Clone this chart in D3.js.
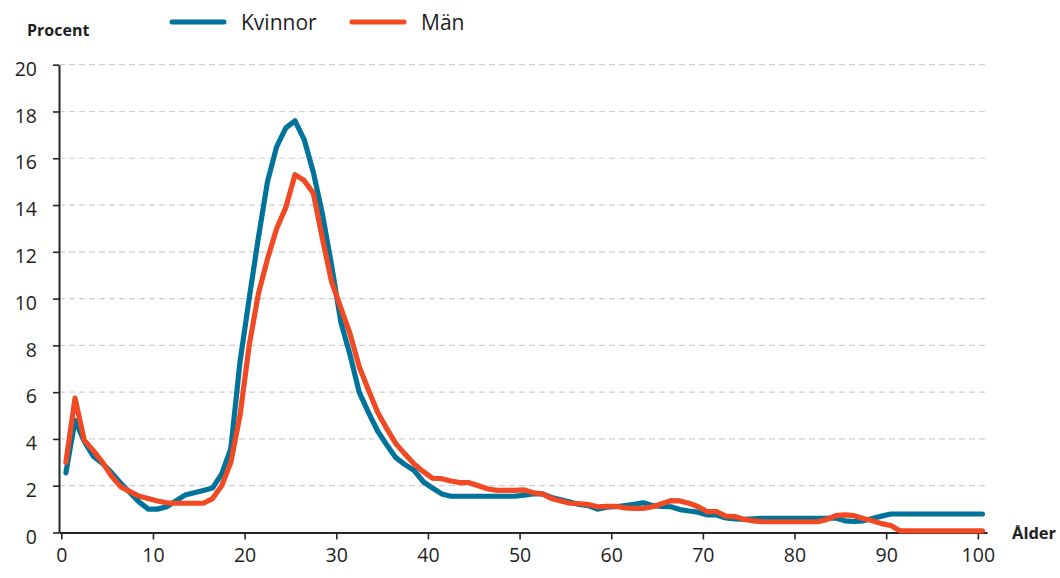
<!DOCTYPE html>
<html>
<head>
<meta charset="utf-8">
<script src="https://cdn.jsdelivr.net/npm/d3@7"></script>
<style>
  body { margin: 0; background: #fff; }
  svg { display: block; font-family: "Open Sans", sans-serif; }
</style>
</head>
<body>
<div id="chart"></div>
<script>
// ålder 0-100, andel i procent
const ages = d3.range(0, 101);

const kvinnor = [
  2.55, 4.8, 3.9, 3.25, 2.95, 2.55, 2.1, 1.7, 1.3, 1.0,
  1.0, 1.1, 1.35, 1.6, 1.7, 1.8, 1.9, 2.5, 3.6, 7.3,
  10.0, 12.6, 15.0, 16.5, 17.3, 17.6, 16.8, 15.4, 13.6, 11.4,
  9.0, 7.6, 6.0, 5.15, 4.35, 3.75, 3.2, 2.9, 2.65, 2.17,
  1.9, 1.65, 1.55, 1.55, 1.55, 1.55, 1.55, 1.55, 1.55, 1.55,
  1.6, 1.65, 1.65, 1.5, 1.4, 1.3, 1.2, 1.15, 1.0, 1.08,
  1.1, 1.15, 1.2, 1.27, 1.15, 1.12, 1.1, 0.98, 0.92, 0.87,
  0.75, 0.75, 0.62, 0.58, 0.56, 0.58, 0.6, 0.6, 0.6, 0.6,
  0.6, 0.6, 0.6, 0.6, 0.62, 0.5, 0.47, 0.5, 0.6, 0.7,
  0.79, 0.79, 0.79, 0.79, 0.79, 0.79, 0.79, 0.79, 0.79, 0.79,
  0.79
];

const man = [
  3.0, 5.75, 3.95, 3.5, 3.0, 2.4, 1.95, 1.75, 1.55, 1.45,
  1.35, 1.27, 1.25, 1.25, 1.25, 1.25, 1.45, 2.0, 3.0, 5.0,
  8.0, 10.2, 11.7, 13.0, 13.9, 15.3, 15.05, 14.5, 12.55, 10.7,
  9.6, 8.5, 7.1, 6.1, 5.15, 4.45, 3.8, 3.35, 2.93, 2.6,
  2.32, 2.3, 2.2, 2.13, 2.13, 2.0, 1.87, 1.8, 1.8, 1.8,
  1.82, 1.7, 1.65, 1.45, 1.35, 1.25, 1.23, 1.2, 1.1, 1.12,
  1.12, 1.05, 1.03, 1.03, 1.1, 1.23, 1.36, 1.35, 1.25, 1.1,
  0.89, 0.89, 0.7, 0.68, 0.56, 0.5, 0.46, 0.46, 0.46, 0.46,
  0.46, 0.46, 0.46, 0.55, 0.72, 0.75, 0.72, 0.6, 0.5, 0.38,
  0.3, 0.07, 0.07, 0.07, 0.07, 0.07, 0.07, 0.07, 0.07, 0.07,
  0.07
];

const yTicks = [0, 2, 4, 6, 8, 10, 12, 14, 16, 18, 20];
const xTicks = [0, 10, 20, 30, 40, 50, 60, 70, 80, 90, 100];

const series = [
  { name: "Kvinnor", values: kvinnor, color: "#00739b" },
  { name: "Män", values: man, color: "#f04923" }
];

const width = 1060, height = 578;

const svg = d3.select("#chart").append("svg")
  .attr("width", width)
  .attr("height", height);

const x = d3.scaleLinear().domain([-0.25, 101]).range([59, 987]);
const y = d3.scaleLinear().domain([0, 20]).range([532.5, 64.7]);

// rutnät
svg.append("g")
  .selectAll("line")
  .data(yTicks.filter(d => d > 0))
  .join("line")
  .attr("x1", x(-0.25))
  .attr("x2", x(101))
  .attr("y1", d => y(d))
  .attr("y2", d => y(d))
  .attr("stroke", "#cfcfcf")
  .attr("stroke-width", 1.2)
  .attr("stroke-dasharray", "6,4");

// axlar
const yAxis = svg.append("g")
  .attr("transform", `translate(${x(-0.25)},0)`)
  .call(d3.axisLeft(y).tickValues(yTicks).tickSize(6).tickSizeOuter(0).tickPadding(16));

const xAxis = svg.append("g")
  .attr("transform", `translate(0,${y(0)})`)
  .call(d3.axisBottom(x).tickValues(xTicks).tickSize(7).tickSizeOuter(0).tickPadding(9));

[yAxis, xAxis].forEach(g => {
  g.select(".domain").attr("stroke", "#262626").attr("stroke-width", 2);
  g.selectAll(".tick line").attr("stroke", "#262626").attr("stroke-width", 1.6);
  g.selectAll(".tick text")
    .attr("fill", "#1e1e1e")
    .style("font-size", "19.5px")
    .style("font-family", "'Open Sans', sans-serif");
});
yAxis.selectAll(".tick text").attr("dy", "0.55em");

// linjer
const line = d3.line()
  .x((d, i) => x(ages[i] + 0.5))
  .y(d => y(d));

svg.append("g")
  .selectAll("path")
  .data(series)
  .join("path")
  .attr("d", d => line(d.values))
  .attr("fill", "none")
  .attr("stroke", d => d.color)
  .attr("stroke-width", 5.2)
  .attr("stroke-linejoin", "round")
  .attr("stroke-linecap", "round");

// axeltitlar
svg.append("text")
  .attr("x", 27)
  .attr("y", 36)
  .style("font-size", "16px")
  .style("font-weight", "bold")
  .attr("fill", "#1e1e1e")
  .text("Procent");

svg.append("text")
  .attr("x", 1012)
  .attr("y", 539)
  .style("font-size", "16.5px")
  .style("font-weight", "bold")
  .attr("fill", "#1e1e1e")
  .text("Ålder");

// legend
const legend = svg.append("g")
  .selectAll("g")
  .data(series)
  .join("g")
  .attr("transform", (d, i) => `translate(${172 + i * 180},22)`);

legend.append("line")
  .attr("x1", 0)
  .attr("x2", 52)
  .attr("stroke", d => d.color)
  .attr("stroke-width", 5)
  .attr("stroke-linecap", "round");

legend.append("text")
  .attr("x", 69)
  .attr("y", 8)
  .style("font-size", "21px")
  .attr("fill", "#1e1e1e")
  .text(d => d.name);
</script>
</body>
</html>
